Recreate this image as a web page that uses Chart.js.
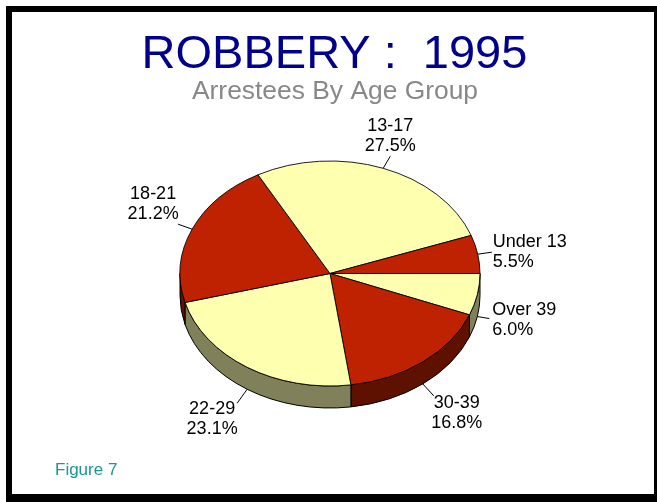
<!DOCTYPE html>
<html>
<head>
<meta charset="utf-8">
<script src="https://cdn.jsdelivr.net/npm/chart.js@4"></script>
<style>
  html, body { margin: 0; background: #fff; overflow: hidden; }
  #frame { position: absolute; left: 6px; top: 6px; width: 642px; height: 482px; border: solid #000; border-width: 6px 3px 8px 6px; }
  #wrap { position: absolute; left: 0; top: 0; width: 657px; height: 502px; }
</style>
</head>
<body>
<div id="frame"></div>
<div id="wrap"><canvas id="chart" width="657" height="502"></canvas></div>
<script>
// clockwise from 3 o'clock, the way Chart.js lays the slices out
const ageGroups = ['Over 39', '30-39', '22-29', '18-21', '13-17', 'Under 13'];
const sharePct = [6.0, 16.8, 23.1, 21.2, 27.5, 5.5];

const topColors = ['#ffffb0', '#bf2200', '#ffffb0', '#bf2200', '#ffffb0', '#bf2200'];
const wallColors = ['#80805a', '#5f1100', '#80805a', '#5f1100', '#80805a', '#5f1100'];

const tilt = 0.75;
const depth = 22;
const fontFamily = '"Liberation Sans", Arial, sans-serif';

// leader end and text anchor, relative to where the leader leaves the pie
const labelLayout = [
  { dx: 12, dy: 2, tx: 15, ty: -2, align: 'left' },
  { dx: 11, dy: 12, tx: 34, ty: 24, align: 'center' },
  { dx: -10, dy: 14, tx: -35, ty: 25, align: 'center' },
  { dx: -14, dy: -5, tx: -39, ty: -30, align: 'center' },
  { dx: 7, dy: -12, tx: 7, ty: -37, align: 'center' },
  { dx: 14, dy: -2, tx: 15, ty: -7, align: 'left' }
];

const pie3d = {
  id: 'pie3d',
  beforeDatasetsDraw(chart) {
    const ctx = chart.ctx;
    const arcs = chart.getDatasetMeta(0).data;
    ctx.save();
    ctx.lineWidth = 1;
    ctx.strokeStyle = '#000';
    arcs.forEach((arc, i) => {
      const a0 = Math.max(arc.startAngle, 0);
      const a1 = Math.min(arc.endAngle, Math.PI);
      if (a1 <= a0) return;
      const ry = arc.outerRadius * tilt;
      ctx.beginPath();
      ctx.ellipse(arc.x, arc.y, arc.outerRadius, ry, 0, a0, a1);
      ctx.lineTo(arc.x + arc.outerRadius * Math.cos(a1), arc.y + ry * Math.sin(a1) + depth);
      ctx.ellipse(arc.x, arc.y + depth, arc.outerRadius, ry, 0, a1, a0, true);
      ctx.closePath();
      ctx.fillStyle = wallColors[i];
      ctx.fill();
      ctx.stroke();
    });
    ctx.restore();
    // squash the round pie into the tilted top face
    const c = arcs[0];
    ctx.save();
    ctx.translate(c.x, c.y);
    ctx.scale(1, tilt);
    ctx.translate(-c.x, -c.y);
  },
  afterDatasetsDraw(chart) {
    const ctx = chart.ctx;
    ctx.restore();
    ctx.save();
    ctx.font = '18px ' + fontFamily;
    ctx.fillStyle = '#000';
    ctx.strokeStyle = '#000';
    ctx.lineWidth = 1;
    ctx.textBaseline = 'alphabetic';
    chart.getDatasetMeta(0).data.forEach((arc, i) => {
      const mid = (arc.startAngle + arc.endAngle) / 2;
      const front = Math.sin(mid) > 0 ? depth : 0;
      const x = arc.x + arc.outerRadius * Math.cos(mid);
      const y = arc.y + arc.outerRadius * tilt * Math.sin(mid) + front;
      const l = labelLayout[i];
      ctx.beginPath();
      ctx.moveTo(x, y);
      ctx.lineTo(x + l.dx, y + l.dy);
      ctx.stroke();
      ctx.textAlign = l.align;
      ctx.fillText(ageGroups[i], x + l.tx, y + l.ty);
      ctx.fillText(sharePct[i].toFixed(1) + '%', x + l.tx, y + l.ty + 20);
    });

    ctx.textAlign = 'center';
    ctx.fillStyle = '#00008b';
    ctx.font = '47px ' + fontFamily;
    ctx.fillText('ROBBERY :  1995', 334.5, 68);
    ctx.fillStyle = '#888888';
    ctx.font = '26.4px ' + fontFamily;
    ctx.fillText('Arrestees By Age Group', 335, 99);

    ctx.fillStyle = '#1a9696';
    ctx.textAlign = 'left';
    ctx.font = '17px ' + fontFamily;
    ctx.fillText('Figure 7', 55, 475);
    ctx.restore();
  }
};

new Chart(document.getElementById('chart'), {
  type: 'pie',
  data: {
    labels: ageGroups,
    datasets: [{
      data: sharePct,
      backgroundColor: topColors,
      borderColor: '#000',
      borderWidth: 1,
      radius: 150,
      clip: false
    }]
  },
  options: {
    responsive: false,
    animation: false,
    rotation: 90,
    layout: { padding: { left: 3, right: 0, top: 113, bottom: 68 } },
    plugins: {
      legend: { display: false },
      tooltip: { enabled: false }
    }
  },
  plugins: [pie3d]
});
</script>
</body>
</html>
